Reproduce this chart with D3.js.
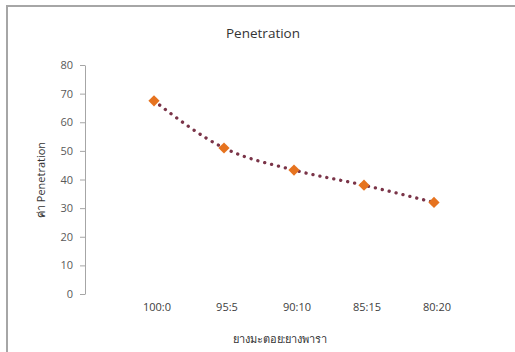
<!DOCTYPE html>
<meta charset="utf-8">
<style>
body { margin: 0; background: #fff; }
text { font-family: "Open Sans", "Noto Sans", sans-serif; }
.axis text { font-size: 11px; fill: #595959; }
</style>
<body>
<script src="https://d3js.org/d3.v7.min.js"></script>
<script>

var categories = ["100:0", "95:5", "90:10", "85:15", "80:20"];
var values = [67.5, 51, 43.3, 38, 32];
var yTicks = [0, 10, 20, 30, 40, 50, 60, 70, 80];

var width = 515, height = 352;

var svg = d3.select("body").append("svg")
    .attr("width", width)
    .attr("height", height);

// chart frame
svg.append("rect")
    .attr("x", 7).attr("y", 6)
    .attr("width", 520).attr("height", 360)
    .attr("fill", "none")
    .attr("stroke", "#a6a6a6")
    .attr("stroke-width", 2);

var x = d3.scalePoint()
    .domain(categories)
    .range([154, 434]);

var y = d3.scaleLinear()
    .domain([0, 80])
    .range([294, 65]);

// y axis
var gY = svg.append("g")
    .attr("class", "axis")
    .attr("transform", "translate(85,0)")
    .call(d3.axisLeft(y).tickValues(yTicks).tickSize(5).tickSizeOuter(0).tickPadding(7));
gY.select(".domain").attr("stroke", "#a6a6a6");
gY.selectAll(".tick line").attr("stroke", "#a6a6a6");

// x labels
svg.append("g")
    .attr("class", "axis")
  .selectAll("text")
  .data(categories)
  .enter().append("text")
    .attr("x", function(d) { return x(d) + 3; })
    .attr("y", 311)
    .attr("text-anchor", "middle")
    .attr("fill", "#404040")
    .style("fill", "#404040")
    .text(function(d) { return d; });

// dotted line
var line = d3.line()
    .x(function(d, i) { return x(categories[i]); })
    .y(function(d) { return y(d); })
    .curve(d3.curveMonotoneX);

svg.append("path")
    .datum(values)
    .attr("d", line)
    .attr("fill", "none")
    .attr("stroke", "#7a3448")
    .attr("stroke-width", 3.3)
    .attr("stroke-linecap", "round")
    .attr("stroke-dasharray", "0.1 7");

// diamond markers
svg.append("g")
  .selectAll("path")
  .data(values)
  .enter().append("path")
    .attr("d", d3.symbol().type(d3.symbolDiamond2).size(80))
    .attr("transform", function(d, i) { return "translate(" + x(categories[i]) + "," + y(d) + ")"; })
    .attr("fill", "#e6731f");

// titles
svg.append("text")
    .attr("x", 263).attr("y", 38)
    .attr("text-anchor", "middle")
    .attr("font-size", 13.5)
    .attr("fill", "#333")
    .text("Penetration");

svg.append("text")
    .attr("transform", "translate(45,180) rotate(-90)")
    .attr("text-anchor", "middle")
    .attr("font-size", 11)
    .attr("fill", "#333")
    .text("ค่า Penetration");

svg.append("text")
    .attr("x", 280).attr("y", 343)
    .attr("text-anchor", "middle")
    .attr("font-size", 11)
    .attr("fill", "#333")
    .text("ยางมะตอย:ยางพารา");

</script>
</body>
